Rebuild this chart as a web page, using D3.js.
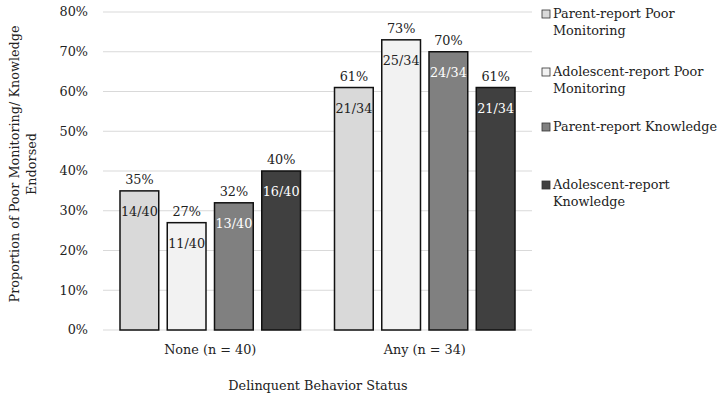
<!DOCTYPE html>
<html><head><meta charset="utf-8">
<script src="https://cdn.jsdelivr.net/npm/d3@7"></script>
<style>body{margin:0;background:#fff;} text{font-family:"DejaVu Serif",serif;fill:#222;}</style>
</head><body>
<svg id="c" width="724" height="405"></svg>
<script>
const categories = ["None (n = 40)", "Any (n = 34)"];
const seriesNames = ["Parent-report Poor Monitoring", "Adolescent-report Poor Monitoring", "Parent-report Knowledge", "Adolescent-report Knowledge"];
const legendLines = [["Parent-report Poor", "Monitoring"], ["Adolescent-report Poor", "Monitoring"], ["Parent-report Knowledge"], ["Adolescent-report", "Knowledge"]];
const noneValues = [35, 27, 32, 40];
const anyValues = [61, 73, 70, 61];
const noneFractions = ["14/40", "11/40", "13/40", "16/40"];
const anyFractions = ["21/34", "25/34", "24/34", "21/34"];
const colors = ["#d9d9d9", "#f2f2f2", "#808080", "#404040"];
const fracColors = ["#222", "#222", "#fff", "#fff"];
const yTicks = [0, 10, 20, 30, 40, 50, 60, 70, 80];

const values = [noneValues, anyValues];
const fractions = [noneFractions, anyFractions];
const FS = 12.8;

const svg = d3.select("#c");
const m = {left: 103, right: 532, top: 12, bottom: 330};
const y = d3.scaleLinear().domain([0, 80]).range([m.bottom, m.top]);
const x0 = d3.scaleBand().domain(categories).range([m.left, m.right]).padding(0);
const x1 = d3.scaleBand().domain(d3.range(4)).range([17, x0.bandwidth() - 17]).paddingInner(0.18).paddingOuter(0);

// gridlines
svg.append("g").selectAll("line").data(yTicks).join("line")
  .attr("x1", m.left).attr("x2", m.right)
  .attr("y1", d => y(d)).attr("y2", d => y(d))
  .attr("stroke", "#d9d9d9").attr("stroke-width", 1);

// y tick labels
svg.append("g").selectAll("text").data(yTicks).join("text")
  .attr("x", 88).attr("y", d => y(d)).attr("dy", "0.35em")
  .attr("text-anchor", "end").attr("font-size", FS)
  .text(d => d + "%");

// bars
const groups = svg.append("g").selectAll("g").data(categories).join("g")
  .attr("transform", d => `translate(${x0(d)},0)`);

groups.each(function(cat, ci) {
  const g = d3.select(this);
  const vals = values[ci];
  g.selectAll("rect").data(vals).join("rect")
    .attr("x", (d, i) => x1(i)).attr("width", x1.bandwidth())
    .attr("y", d => y(d)).attr("height", d => y(0) - y(d))
    .attr("fill", (d, i) => colors[i]).attr("stroke", "#111").attr("stroke-width", 1.5);
  g.selectAll("text.pct").data(vals).join("text").attr("class", "pct")
    .attr("x", (d, i) => x1(i) + x1.bandwidth() / 2).attr("y", d => y(d) - 11).attr("dy", "0.35em")
    .attr("text-anchor", "middle").attr("font-size", FS)
    .text(d => d + "%");
  g.selectAll("text.frac").data(vals).join("text").attr("class", "frac")
    .attr("x", (d, i) => x1(i) + x1.bandwidth() / 2).attr("y", d => y(d) + 21).attr("dy", "0.35em")
    .attr("text-anchor", "middle").attr("font-size", FS)
    .style("fill", (d, i) => fracColors[i])
    .text((d, i) => fractions[ci][i]);
});

// category labels
svg.append("g").selectAll("text").data(categories).join("text")
  .attr("x", d => x0(d) + x0.bandwidth() / 2).attr("y", 350).attr("dy", "0.35em")
  .attr("text-anchor", "middle").attr("font-size", FS)
  .text(d => d);

// x axis title
svg.append("text").attr("x", 318).attr("y", 386).attr("dy", "0.35em")
  .attr("text-anchor", "middle").attr("font-size", FS)
  .text("Delinquent Behavior Status");

// y axis title
const yt = svg.append("text").attr("transform", "translate(15,164) rotate(-90)")
  .attr("text-anchor", "middle").attr("font-size", FS);
yt.append("tspan").attr("x", 0).attr("dy", "0.35em").text("Proportion of Poor Monitoring/ Knowledge");
yt.append("tspan").attr("x", 0).attr("dy", "1.3em").text("Endorsed");

// legend
const legY = [14, 72, 127, 185];
const leg = svg.append("g").selectAll("g").data(seriesNames).join("g")
  .attr("transform", (d, i) => `translate(542,${legY[i]})`);
leg.append("rect").attr("x", 0).attr("y", -4).attr("width", 8).attr("height", 8)
  .attr("fill", (d, i) => colors[i]).attr("stroke", "#333").attr("stroke-width", 0.8);
leg.each(function(d, i) {
  const t = d3.select(this).append("text").attr("x", 11).attr("y", 0).attr("font-size", FS);
  legendLines[i].forEach((ln, j) => {
    t.append("tspan").attr("x", 11).attr("dy", j === 0 ? "0.35em" : "1.3em").text(ln);
  });
});
</script>
</body></html>
